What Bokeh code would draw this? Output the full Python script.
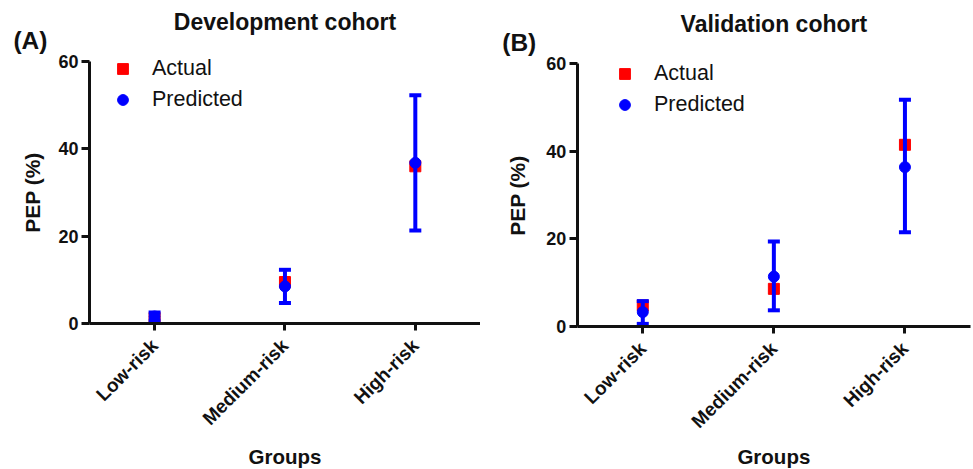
import math
from bokeh.plotting import figure
from bokeh.models import (Whisker, TeeHead, ColumnDataSource, Legend, LegendItem,
                          Label, Range1d, FixedTicker)
from bokeh.layouts import row
from bokeh.embed import file_html
from bokeh.resources import INLINE

groups = ["Low-risk", "Medium-risk", "High-risk"]
y_ticks = [0, 20, 40, 60]

dev_actual = [1.3, 9.5, 36.0]
dev_pred = [1.6, 8.5, 36.8]
dev_lower = [0.7, 4.7, 21.3]
dev_upper = [2.5, 12.3, 52.3]

val_actual = [4.8, 8.6, 41.5]
val_pred = [3.3, 11.4, 36.4]
val_lower = [0.6, 3.7, 21.5]
val_upper = [5.8, 19.4, 51.8]

FONT = "Liberation Sans"
INK = "#111111"


def make_panel(title, letter, actual, pred, lower, upper, width, xr, yr,
               legend_loc, pos):
    xpos = [i + 0.5 for i in range(len(groups))]
    p = figure(x_range=Range1d(*xr), y_range=Range1d(*yr), width=width,
               height=469, output_backend="svg", toolbar_location=None,
               min_border=0)
    p.outline_line_color = None
    p.xgrid.grid_line_color = None
    p.ygrid.grid_line_color = None
    p.background_fill_color = "white"

    src = ColumnDataSource(dict(x=xpos, actual=actual, pred=pred,
                                lower=lower, upper=upper))
    r_act = p.scatter("x", "actual", source=src, marker="square", size=11,
                      fill_color="#ff0000", line_color="#ff0000")
    w = Whisker(base="x", upper="upper", lower="lower", source=src,
                dimension="height", line_color="#0000ff", line_width=4,
                level="glyph",
                upper_head=TeeHead(size=12, line_color="#0000ff", line_width=4),
                lower_head=TeeHead(size=12, line_color="#0000ff", line_width=4))
    p.add_layout(w)
    r_pred = p.scatter("x", "pred", source=src, marker="circle", size=11,
                       fill_color="#0000ff", line_color="#0000ff")

    legend = Legend(items=[LegendItem(label="Actual", renderers=[r_act]),
                           LegendItem(label="Predicted", renderers=[r_pred])],
                    location=legend_loc, border_line_color=None,
                    background_fill_alpha=0, padding=0, margin=0, spacing=4,
                    glyph_width=27, glyph_height=27, label_height=20,
                    label_standoff=16,
                    label_text_font=FONT, label_text_font_size="21.5px",
                    label_text_color=INK)
    p.add_layout(legend)

    for ax in (p.xaxis[0], p.yaxis[0]):
        ax.fixed_location = 0
        ax.axis_line_width = 3
        ax.major_tick_line_width = 3
        ax.major_tick_in = 0
        ax.minor_tick_line_color = None
        ax.major_label_text_font = FONT
        ax.major_label_text_font_style = "bold"
        ax.major_label_text_color = INK
        ax.axis_line_color = INK
        ax.major_tick_line_color = INK

    p.yaxis.ticker = FixedTicker(ticks=y_ticks)
    p.yaxis.bounds = (y_ticks[0], y_ticks[-1])
    p.yaxis.major_tick_out = 8
    p.yaxis.major_label_standoff = 3
    p.yaxis.major_label_text_font_size = "18px"

    p.xaxis.ticker = FixedTicker(ticks=xpos)
    p.xaxis.major_label_overrides = {x: g for x, g in zip(xpos, groups)}
    p.xaxis.bounds = (0, len(groups))
    p.xaxis.major_tick_out = 7
    p.xaxis.major_label_orientation = math.pi / 4
    p.xaxis.major_label_standoff = 12
    p.xaxis.major_label_text_font_size = "19px"

    def lab(x, y, text, size, align="center", baseline="alphabetic", angle=0,
            style="bold"):
        p.add_layout(Label(x=x, y=y, text=text, text_align=align,
                           text_baseline=baseline, angle=angle,
                           text_font=FONT, text_font_style=style,
                           text_font_size=size, text_color=INK))

    center = len(groups) / 2
    lab(center, pos["title_y"], title, "23px")
    lab(pos["letter_x"], pos["letter_y"], letter, "24.5px", align="left")
    lab(pos["ylab_x"], pos["ylab_y"], "PEP (%)", "21px", baseline="middle",
        angle=math.pi / 2)
    lab(center, pos["xlab_y"], "Groups", "20.5px")
    return p


pa = make_panel("Development cohort", "(A)", dev_actual, dev_pred, dev_lower,
                dev_upper, width=480, xr=(-0.682, 3.0), yr=(-33.43, 73.97),
                legend_loc=(109, 356),
                pos=dict(title_y=69.1, letter_x=-0.583, letter_y=64.7,
                         ylab_x=-0.44, ylab_y=30.0, xlab_y=-30.4))
pb = make_panel("Validation cohort", "(B)", val_actual, val_pred, val_lower,
                val_upper, width=493, xr=(-0.738, 3.023), yr=(-32.66, 74.46),
                legend_loc=(131, 351),
                pos=dict(title_y=69.0, letter_x=-0.572, letter_y=64.9,
                         ylab_x=-0.452, ylab_y=29.9, xlab_y=-29.8))

layout = row(pa, pb)
open("out.html", "w").write(file_html(layout, INLINE))
